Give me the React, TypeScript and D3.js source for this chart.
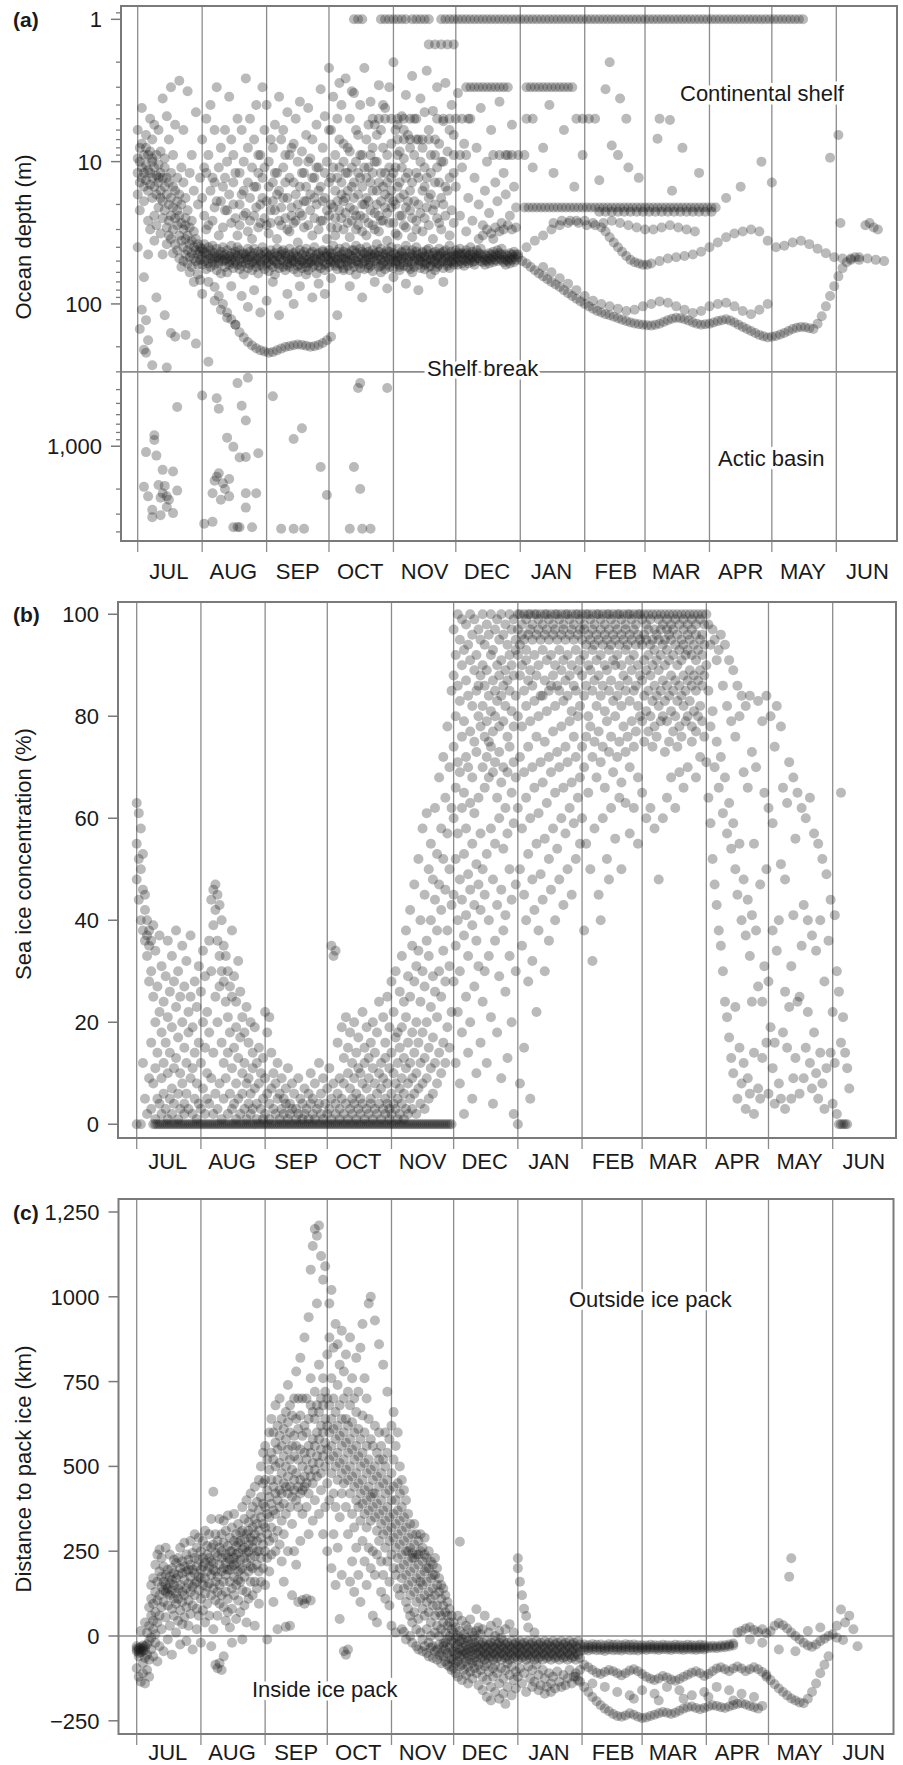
import * as d3 from 'd3';

type Pt = [number, number];
type Column = [number, number[]];

const FONT = 'Liberation Sans, Arial, Helvetica, sans-serif';
const MONTH_LABELS = ['JUL', 'AUG', 'SEP', 'OCT', 'NOV', 'DEC', 'JAN', 'FEB', 'MAR', 'APR', 'MAY', 'JUN'];
const SEASON_START = new Date(2007, 6, 1);
const JUNE_FIRST = new Date(2008, 5, 1);
const SEASON_END = new Date(2008, 6, 1);

// day = days since 1 July; each column lists the values seen on that day

// ---------- (a) ocean depth, m ----------
const depthTicks: [number, string][] = [[1, '1'], [10, '10'], [100, '100'], [1000, '1,000']];
const shelfBreakDepth = 300;

const depthJuly: Column[] = [
  [0, [12, 9.5, 17, 6, 40]], [1, [10, 14, 8, 22, 150]], [2, [11, 7.5, 13, 4.2, 110]], [3, [9, 15, 12, 19, 65]],
  [4, [10.5, 8, 13.5, 6.5, 220]], [5, [11.5, 9, 16, 26, 45]], [6, [8.5, 12, 14.5, 5, 30]], [7, [10, 13, 18, 7, 9.5]],
  [8, [11, 15, 24, 5.5, 36]], [9, [9, 12.5, 17, 28, 90]], [10, [14, 10.5, 21, 6, 13]], [11, [12, 16, 8.5, 32, 18]],
  [12, [13, 19, 3.6, 25, 45]], [13, [15, 11, 22, 9.5, 120]], [14, [17, 4.8, 13, 29, 38]], [15, [14, 20, 26, 7, 33]],
  [16, [18, 12, 3, 35, 24]], [17, [21, 15, 30, 9, 44]], [18, [16, 25, 5.5, 38, 170]], [19, [19, 28, 13, 42, 22]],
  [20, [24, 2.7, 33, 17, 48]], [21, [27, 20, 36, 11, 55]], [22, [30, 14, 40, 6, 50]], [23, [25, 35, 45, 18, 28]],
  [24, [33, 42, 3.2, 22, 52]], [25, [38, 29, 47, 12, 60]], [26, [36, 44, 9, 26, 55]], [27, [40, 48, 31, 16, 70]],
  [28, [42, 50, 35, 4.5, 190]], [29, [45, 38, 53, 20, 62]], [30, [43, 49, 40, 13, 68]],
];

// main 40-60 m band (with the odd deeper fix) from August to December
const depthBand: Column[] = [
  [31, [46, 41, 53, 85]], [32, [43, 50, 38]], [33, [49, 44, 57]], [34, [45, 52, 40, 70]], [35, [48, 42, 55]], [36, [51, 46, 39]],
  [37, [44, 53, 48, 95]], [38, [47, 41, 58]], [39, [52, 45, 50]], [40, [43, 48, 61, 110]], [41, [50, 46, 40]], [42, [45, 55, 49]],
  [43, [48, 42, 60, 125]], [44, [53, 46, 51]], [45, [44, 49, 39, 75]], [46, [47, 56, 52]], [47, [50, 43, 45, 140]], [48, [46, 53, 40]],
  [49, [42, 49, 57]], [50, [51, 45, 54, 88]], [51, [48, 44, 62]], [52, [45, 52, 47]], [53, [49, 41, 56, 105]], [54, [53, 47, 43]],
  [55, [46, 51, 58]], [56, [44, 50, 41, 80]], [57, [52, 48, 55]], [58, [47, 43, 61]], [59, [50, 45, 53, 115]], [60, [46, 54, 40]],
  [61, [43, 49, 57]], [62, [48, 52, 44, 95]], [63, [51, 46, 59]], [64, [45, 42, 53]], [65, [49, 55, 47, 70]], [66, [44, 50, 62]],
  [67, [52, 46, 41]], [68, [47, 53, 56, 120]], [69, [43, 49, 45]], [70, [50, 55, 42]], [71, [46, 44, 58]], [72, [53, 48, 51, 85]],
  [73, [45, 41, 55]], [74, [49, 52, 47]], [75, [44, 57, 50, 100]], [76, [51, 46, 43]], [77, [47, 54, 60]], [78, [42, 49, 53, 75]],
  [79, [50, 45, 56]], [80, [48, 43, 52]], [81, [46, 55, 41, 62]], [82, [52, 49, 58]], [83, [44, 47, 51]], [84, [50, 43, 55, 90]],
  [85, [47, 53, 40]], [86, [45, 49, 61]], [87, [51, 44, 54, 72]], [88, [48, 56, 46]], [89, [43, 50, 42]], [90, [53, 47, 58, 85]],
  [91, [46, 52, 44]], [92, [49, 42, 55]], [93, [44, 51, 47, 66]], [94, [50, 45, 39]], [95, [47, 54, 52]], [96, [43, 49, 57, 120]],
  [97, [52, 46, 41]], [98, [45, 53, 48]], [99, [48, 43, 56, 58]], [100, [51, 47, 40]], [101, [44, 50, 54]], [102, [49, 45, 58, 75]],
  [103, [46, 52, 42]], [104, [42, 48, 55]], [105, [50, 44, 39, 62]], [106, [47, 53, 51]], [107, [45, 41, 56]], [108, [52, 48, 43, 90]],
  [109, [44, 50, 57]], [110, [49, 46, 40]], [111, [43, 53, 47, 56]], [112, [51, 45, 54]], [113, [47, 42, 59]], [114, [45, 50, 44, 70]],
  [115, [52, 48, 38]], [116, [46, 43, 55]], [117, [49, 54, 41, 60]], [118, [44, 47, 52]], [119, [50, 45, 57]], [120, [47, 53, 42, 78]],
  [121, [43, 49, 55]], [122, [51, 46, 40]], [123, [48, 44, 56, 65]], [124, [45, 52, 50]], [125, [50, 41, 47]], [126, [46, 53, 58, 55]],
  [127, [43, 48, 44]], [128, [51, 46, 54]], [129, [47, 42, 39, 72]], [130, [49, 55, 51]], [131, [44, 47, 57]], [132, [52, 45, 42, 60]],
  [133, [46, 50, 55]], [134, [48, 43, 40]], [135, [45, 53, 49, 80]], [136, [50, 47, 56]], [137, [43, 51, 44]], [138, [47, 46, 53, 57]],
  [139, [52, 42, 49]], [140, [45, 55, 41]], [141, [49, 48, 54, 62]], [142, [44, 51, 46]], [143, [50, 43, 58]], [144, [47, 45, 52, 55]],
  [145, [46, 53, 41]], [146, [51, 44, 48]], [147, [43, 50, 56, 70]], [148, [48, 46, 42]], [149, [45, 52, 54]], [150, [50, 47, 39, 56]],
  [151, [46, 43, 51]], [152, [49, 53, 45]],
  [153, [46, 51, 42]], [154, [48, 44, 53]], [155, [45, 50, 41]], [156, [47, 52, 44]], [157, [49, 45, 54]], [158, [44, 50, 42]],
  [159, [48, 46, 52]], [160, [45, 49, 40]], [161, [47, 51, 43]], [162, [50, 45, 53]], [163, [46, 48, 42]], [164, [48, 44, 35]],
  [165, [45, 50, 41]], [166, [47, 51, 33]], [167, [49, 45, 53]], [168, [46, 50, 30]], [169, [48, 44, 52]], [170, [45, 49, 32]],
  [171, [47, 51, 43]], [172, [49, 45, 29]], [173, [46, 50, 42]], [174, [48, 44, 31]], [175, [45, 49, 41]], [176, [47, 51, 30]],
  [177, [49, 45, 53]], [178, [46, 50, 28]], [179, [48, 44, 52]], [180, [45, 49, 30]], [181, [47, 51, 43]], [182, [49, 45, 29]],
];

// shallow fixes above the band
const depthUpper: Column[] = [
  [31, [18, 7]], [32, [24, 11]], [33, [12, 5, 30]], [34, [28, 9]], [35, [16, 4]], [36, [26, 13]], [37, [14, 21, 6]], [38, [3, 19]],
  [39, [11, 33]], [40, [19, 8]], [41, [29, 15]], [42, [13, 6, 22]], [43, [22, 10]], [44, [17, 3.5]], [45, [7, 27]], [46, [14, 20, 9]],
  [47, [25, 12]], [48, [5, 33]], [49, [12, 20, 28]], [50, [6, 17]], [51, [16, 10, 24]], [52, [23, 2.6]], [53, [8, 31, 14]],
  [54, [5, 18, 26]], [55, [35, 11]], [56, [7, 24, 15]], [57, [15, 4, 21]], [58, [29, 9, 12]], [59, [9, 20, 27]], [60, [13, 3, 18]],
  [61, [6, 25, 11]], [62, [19, 4, 28]], [63, [10, 32, 15]], [64, [27, 7, 22]], [65, [8, 14, 19]], [66, [22, 5.5, 12]],
  [67, [12, 35, 17]], [68, [16, 3.5, 26]], [69, [28, 7, 21]], [70, [11, 18, 6]], [71, [25, 14, 9]], [72, [18, 4.5, 30]],
  [73, [9, 31, 13]], [74, [21, 8, 24]], [75, [14, 7.5, 27]], [76, [26, 5, 17]], [77, [10, 37, 20]], [78, [15, 3.8, 23]],
  [79, [24, 8.5, 12]], [80, [12, 19, 29]], [81, [19, 6.5, 15]], [82, [28, 4.2, 10]], [83, [9.5, 17, 22]], [84, [33, 13, 7]],
  [85, [13, 25, 18]], [86, [20, 5.5, 11]], [87, [30, 11, 16]], [88, [15, 3.1, 26]], [89, [26, 8, 19]], [90, [18, 4.8, 12]],
  [91, [10, 35, 22]], [92, [24, 6, 14, 2.2]], [93, [13, 20, 6, 29]], [94, [21, 3.5, 11]], [95, [16, 9, 25, 33]],
  [96, [29, 5, 13, 19]], [97, [11, 22, 7, 2.8]], [98, [25, 14, 4, 17]], [99, [7.5, 19, 30, 10]], [100, [18, 2.6, 23, 12]],
  [101, [27, 12, 8, 16]], [102, [34, 8.5, 21, 5]], [103, [15, 26, 11, 3.2]], [104, [22, 3.3, 14, 18]], [105, [30, 10, 6, 24]],
  [106, [17, 6.5, 28, 12]], [107, [24, 13, 9, 4]], [108, [9, 20, 15, 31]], [109, [20, 2.2, 11, 25]], [110, [33, 7, 18, 13]],
  [111, [19, 11, 27, 5.5]], [112, [14, 3.8, 22, 9]], [113, [28, 8, 16, 12]], [114, [23, 5.5, 10, 30]], [115, [16, 10, 20, 6.5]],
  [116, [31, 2.9, 14, 24]], [117, [12, 6, 19, 26]], [118, [26, 15, 8, 4]], [119, [21, 4.2, 12, 17]], [120, [36, 9, 23, 14]],
  [121, [18, 3, 11, 27]], [122, [13, 7.5, 21, 16]], [123, [27, 2, 12, 19]], [124, [20, 11, 6, 32]], [125, [33, 5.5, 15, 9]],
  [126, [14, 8.5, 24, 18]], [127, [24, 4.8, 11]], [128, [17, 9.5, 28, 6]], [129, [29, 3.4, 13, 21]], [130, [12, 6.5, 19]],
  [131, [22, 16, 8]], [132, [34, 2.5, 14, 25]], [133, [19, 9, 5]], [134, [26, 5, 12, 30]], [135, [13, 7, 20]], [136, [23, 3.6, 10]],
  [137, [31, 8, 16]], [138, [11, 15, 25, 4.5]], [139, [21, 2.3, 13]], [140, [28, 6, 18]], [141, [17, 12, 9]], [142, [35, 4.4, 22]],
  [143, [20, 9, 14]], [144, [25, 3, 11]], [145, [14, 7.5, 27]], [146, [30, 18, 10]], [147, [10, 5.2, 20]], [148, [24, 2.8, 15]],
  [149, [16, 8.5]], [150, [33, 13, 6]], [151, [22, 4]], [152, [27, 6.5, 12]],
  [153, [15]], [154, [3.3]], [155, [24]], [156, [11]], [157, [7.5]], [158, [31]], [159, [18]], [160, [5]], [161, [26]], [162, [13]],
  [163, [8]], [164, [20]], [165, [4.2]], [166, [28]], [167, [16]], [168, [10]], [169, [23]], [170, [6]], [171, [35]], [172, [14]],
  [173, [19]], [174, [3.8]], [175, [27]], [176, [12]], [177, [17]], [178, [9]], [179, [24]], [180, [5.5]], [181, [15]], [182, [21]],
];

const depthRows = [
  { depth: 1, days: [104, 106, 108, 117, 119, 121, 123, 125, 127, 129, 132, 134, 136, 138, 140, 146, 148, 150, 152, 154, 156, 158, 160, 162, 164, 166, 168, 170, 172, 174, 176, 178, 180, 182, 184, 186, 188, 190, 192, 194, 196, 198, 200, 202, 204, 206, 208, 210, 212, 214, 216, 218, 220, 222, 224, 226, 228, 230, 232, 234, 236, 238, 240, 242, 244, 246, 248, 250, 252, 254, 256, 258, 260, 262, 264, 266, 268, 270, 272, 274, 276, 278, 280, 282, 284, 286, 288, 290, 292, 294, 296, 298, 300, 302, 304, 306, 308, 310, 312, 314, 316, 318, 320] },
  { depth: 1.5, days: [140, 143, 146, 149, 152] },
  { depth: 3, days: [158, 160, 162, 164, 166, 168, 170, 172, 174, 176, 178, 187, 189, 191, 193, 195, 197, 199, 201, 203, 205, 207, 209] },
  { depth: 5, days: [113, 116, 119, 122, 125, 128, 131, 144, 147, 150, 153, 156, 159, 187, 190, 211, 214, 217, 220] },
  { depth: 7, days: [125, 128, 131, 134, 137, 140, 143] },
  { depth: 9, days: [152, 155, 158, 171, 174, 177, 180, 183, 186] },
  { depth: 21, days: [186, 188, 190, 192, 194, 196, 198, 200, 202, 204, 206, 208, 210, 212, 214, 216, 218, 220, 222, 224, 226, 228, 230, 232, 234, 236, 238, 240, 242, 244, 246, 248, 250, 252, 254, 256, 258, 260, 262, 264, 266, 268, 270, 272, 274, 276, 278] },
  { depth: 22.5, days: [222, 225, 228, 231, 234, 237, 240, 243, 246, 249, 252, 255, 258, 261, 264, 267, 270, 273, 276] },
];

const depthSummerTrack: Pt[] = [
  [37, 76], [39, 88], [41, 100], [43, 115], [45, 128], [47, 140], [49, 158], [51, 172], [53, 185], [55, 196], [57, 205],
  [59, 212], [61, 216], [63, 220], [65, 218], [67, 212], [69, 206], [71, 201], [73, 198], [75, 195], [77, 193], [79, 194],
  [81, 197], [83, 200], [85, 198], [87, 194], [89, 188], [91, 180], [93, 170],
];

const depthWinterTracks: Pt[] = [
  [183, 47], [185, 50], [187, 52], [189, 55], [191, 58], [193, 61], [195, 64], [197, 67], [199, 70], [201, 73], [203, 76],
  [205, 80], [207, 84], [209, 88], [211, 92], [213, 96], [215, 100], [217, 104], [219, 108], [221, 112], [223, 115],
  [225, 118], [227, 120], [229, 123], [231, 126], [233, 129], [235, 132], [237, 135], [239, 137], [241, 139], [243, 140],
  [245, 141], [247, 142], [249, 140], [251, 138], [253, 134], [255, 130], [257, 127], [259, 125], [261, 126], [263, 128],
  [265, 131], [267, 135], [269, 138], [271, 140], [273, 139], [275, 138], [277, 135], [279, 132], [281, 130], [283, 128],
  [285, 131], [287, 135], [289, 140], [291, 145], [293, 150], [295, 155], [297, 160], [299, 165], [301, 169], [303, 172],
  [305, 170], [307, 168], [309, 164], [311, 160], [313, 155], [315, 150], [317, 147], [319, 145], [321, 146], [323, 148],
  [195, 55], [199, 60], [203, 66], [207, 72], [211, 80], [215, 88], [219, 95], [223, 100], [227, 104], [231, 108], [235, 112],
  [239, 110], [243, 104], [247, 100], [251, 96], [255, 98], [259, 104], [263, 110], [267, 116], [271, 112], [275, 104],
  [279, 100], [283, 98], [287, 104], [291, 112], [295, 118], [299, 110], [303, 100],
  [183, 45], [187, 40], [191, 36], [195, 33], [199, 30], [203, 28], [207, 27], [211, 26], [215, 26], [219, 27], [223, 29],
  [225, 31], [227, 34], [229, 37], [231, 40], [233, 43], [235, 46], [237, 49], [239, 51], [241, 52], [243, 53], [245, 53],
  [247, 52], [251, 50], [255, 48], [259, 47], [263, 46], [267, 45], [271, 43], [275, 40], [279, 37], [283, 34], [287, 32],
  [291, 31], [295, 30], [299, 31], [303, 36], [307, 40], [311, 39], [315, 37], [319, 36], [323, 38], [327, 41], [331, 44],
  [335, 47], [339, 48], [343, 49], [347, 49], [351, 48], [355, 49], [359, 50],
  [200, 27], [204, 26], [208, 26], [212, 27], [216, 28], [220, 28], [224, 27], [228, 26], [232, 27], [236, 28], [240, 29],
  [244, 30], [248, 30], [252, 29], [256, 28], [260, 29], [264, 30], [268, 31],
  [325, 150], [327, 138], [329, 122], [331, 104], [333, 88], [335, 75], [337, 64], [339, 56], [341, 51], [343, 48], [345, 47], [347, 47],
];

const depthWinterScatter: Pt[] = [
  [227, 2], [225, 3.1], [232, 3.6], [235, 5], [251, 5], [250, 6.9], [256, 5.1], [228, 7.7], [231, 9], [241, 13], [257, 16],
  [305, 14], [338, 27], [222, 13.5], [195, 8], [200, 12], [205, 6], [210, 15], [190, 11], [198, 4], [214, 9], [236, 11],
  [262, 8], [270, 12], [283, 18], [333, 9.4], [337, 6.5], [350, 28], [352, 27], [354, 29], [356, 30], [290, 15], [300, 10],
];

const depthDeep: Pt[] = [
  [4, 1100], [8, 838], [8, 903], [9, 1164], [12, 1466], [17, 1505], [10, 1875], [12, 2140], [14, 2250], [15, 2380], [5, 2250],
  [7, 3150], [11, 3050], [17, 2950], [19, 2050], [19, 530], [3, 1930], [7, 2800], [14, 2670], [11, 2300], [13, 1900],
  [4, 130], [5, 180], [7, 270], [14, 280], [16, 160], [23, 165], [3, 210],
  [31, 440], [34, 255], [38, 460], [39, 545], [48, 360], [53, 330], [50, 520], [52, 660], [43, 870], [46, 1010], [49, 1200],
  [52, 1190], [58, 1120], [38, 1640], [41, 1820], [36, 2140], [40, 2380], [44, 2250], [52, 2140], [57, 2140], [52, 2700],
  [39, 1550], [32, 3500], [36, 3400], [46, 3710], [49, 3710], [55, 3710], [48, 3700], [42, 2000], [37, 1750], [44, 1700],
  [65, 445], [75, 890], [79, 748], [88, 1400], [91, 2200], [69, 3800], [75, 3800], [80, 3800],
  [107, 360], [104, 1400], [107, 2000], [102, 3800], [108, 3800], [112, 3800], [120, 390], [106, 390],
];

// ---------- (b) sea ice concentration, % ----------
const iceTicks = [0, 20, 40, 60, 80, 100];

const iceFreeDays = [
  8, 9, 10, 11, 12, 13, 14, 15, 16, 17, 18, 19, 20, 21, 22, 23, 24, 25, 26, 27, 28, 29, 30, 31, 32, 33, 34, 35, 36, 37, 38, 39,
  40, 41, 42, 43, 44, 45, 46, 47, 48, 49, 50, 51, 52, 53, 54, 55, 56, 57, 58, 59, 60, 61, 62, 63, 64, 65, 66, 67, 68, 69, 70,
  71, 72, 73, 74, 75, 76, 77, 78, 79, 80, 81, 82, 83, 84, 85, 86, 87, 88, 89, 90, 91, 92, 93, 94, 95, 96, 97, 98, 99, 100,
  101, 102, 103, 104, 105, 106, 107, 108, 109, 110, 111, 112, 113, 114, 115, 116, 117, 118, 119, 120, 121, 122, 123, 124,
  125, 126, 127, 128, 129, 130, 131, 132, 133, 134, 135, 136, 137, 138, 139, 140, 141, 142, 143, 144, 145, 146, 147, 148,
  149, 150, 151, 152,
];

const iceSummer: Column[] = [
  [0, [55, 63, 48, 0]], [1, [61, 52, 44]], [2, [58, 50, 40, 0]], [3, [53, 46, 38, 12]], [4, [45, 42, 36, 5]], [5, [40, 37, 33, 2]],
  [6, [38, 35, 28, 9]], [7, [36, 30, 16, 3]], [8, [39, 25, 8]], [9, [34, 20, 11, 1]], [10, [27, 14, 5]], [11, [37, 22, 4]],
  [12, [31, 18, 9, 2]], [13, [24, 12, 6]], [14, [29, 16, 3]], [15, [36, 21, 10, 1]], [16, [26, 14, 5]], [17, [33, 19, 7, 2]],
  [18, [28, 11, 4]], [19, [38, 23, 13]], [20, [30, 17, 6, 1]], [21, [25, 10, 3]], [22, [35, 20, 8]], [23, [27, 15, 4, 2]],
  [24, [32, 12, 6]], [25, [22, 18, 3]], [26, [37, 25, 9]], [27, [19, 11, 2]], [28, [28, 14, 5]], [29, [23, 8, 1]], [30, [31, 16, 4]],
  [31, [26, 12, 3]], [32, [34, 20, 7]], [33, [29, 15, 2]], [34, [22, 10, 5]], [35, [36, 18, 4]], [36, [44, 30, 9]],
  [37, [46, 39, 14, 2]], [38, [47, 42, 25, 6]], [39, [45, 36, 20, 3]], [40, [43, 33, 27, 8]], [41, [40, 30, 16, 1]],
  [42, [35, 28, 12, 5]], [43, [33, 24, 9]], [44, [30, 21, 14, 2]], [45, [27, 18, 6]], [46, [38, 25, 11, 3]], [47, [29, 15, 4]],
  [48, [24, 19, 8, 1]], [49, [32, 13, 5]], [50, [26, 17, 2]], [51, [21, 10, 6]], [52, [18, 12, 3]], [53, [23, 8, 1]],
  [54, [16, 9, 4]], [55, [20, 6, 2]], [56, [14, 11, 3]], [57, [19, 7]], [58, [12, 4, 1]], [59, [15, 8]], [60, [10, 3]], [61, [13, 5, 1]],
  [62, [22, 9, 2]], [63, [18, 6]], [64, [21, 4, 1]], [65, [14, 7]], [66, [10, 3]], [67, [8, 2]], [68, [12, 5]], [69, [6, 1]],
  [70, [9, 3]], [71, [5, 2]], [72, [7, 4]], [73, [11, 1]], [74, [4, 2]], [75, [8, 3]], [76, [6]], [77, [3, 1]], [78, [9, 2]],
  [79, [5]], [80, [4, 1]], [81, [7, 2]], [82, [3]], [83, [6, 1]], [84, [10, 4]], [85, [5, 2]], [86, [8, 1]], [87, [3]],
  [88, [12, 4]], [89, [6, 2]], [90, [9, 1]], [91, [4]],
];

const iceAutumn: Column[] = [
  [92, [7, 2]], [93, [11, 3]], [94, [35, 5, 1]], [95, [33, 8]], [96, [34, 4, 2]], [97, [16, 6]], [98, [9, 3, 1]], [99, [19, 5]],
  [100, [13, 8, 2]], [101, [21, 4]], [102, [15, 10, 1]], [103, [18, 7, 3]], [104, [12, 5, 2]], [105, [20, 9, 4]],
  [106, [14, 6, 1]], [107, [17, 11, 3]], [108, [10, 5, 2]], [109, [22, 8, 4]], [110, [15, 12, 1]], [111, [19, 7, 3]],
  [112, [13, 9, 2]], [113, [16, 5, 4]], [114, [20, 11, 1]], [115, [14, 8, 3]], [116, [18, 6, 2]], [117, [24, 10, 4]],
  [118, [12, 7, 1]], [119, [21, 9, 3]], [120, [16, 13, 5, 2]], [121, [25, 8, 4]], [122, [19, 11, 3, 1]],
  [123, [28, 14, 6, 2]], [124, [22, 10, 4]], [125, [30, 17, 8, 3]], [126, [18, 12, 5, 1]], [127, [26, 15, 7, 2]],
  [128, [33, 19, 9, 4]], [129, [24, 13, 6, 1]], [130, [38, 21, 11, 3]], [131, [29, 16, 8, 2]], [132, [42, 25, 12, 5]],
  [133, [35, 18, 9, 3]], [134, [47, 28, 14, 6]], [135, [31, 20, 10, 2]], [136, [52, 34, 16, 7]], [137, [40, 24, 12, 4]],
  [138, [58, 30, 18, 8]], [139, [45, 27, 13, 3]], [140, [61, 36, 20, 9]], [141, [50, 33, 15, 5]], [142, [55, 40, 23, 11]],
  [143, [48, 29, 17, 6]], [144, [62, 44, 26, 12]], [145, [53, 38, 21, 8]], [146, [68, 47, 30, 14]], [147, [58, 42, 25, 10]],
  [148, [72, 52, 34, 16]], [149, [64, 46, 28, 12]], [150, [78, 57, 38, 19]], [151, [70, 50, 31, 15]], [152, [85, 62, 43, 22]],
];

const iceWinter: Column[] = [
  [153, [97, 88, 74, 60, 45, 28]], [154, [92, 80, 66, 52, 35, 12]], [155, [100, 86, 71, 57, 40, 22]], [156, [95, 83, 69, 48, 30, 8]],
  [157, [99, 90, 76, 62, 44, 18]], [158, [93, 79, 65, 53, 37, 2]], [159, [98, 87, 72, 58, 41, 25]], [160, [94, 84, 70, 49, 33, 14]],
  [161, [100, 91, 77, 63, 46, 20]], [162, [96, 82, 68, 55, 39, 5]], [163, [99, 89, 75, 61, 43, 27]], [164, [92, 85, 73, 51, 36, 10]],
  [165, [97, 86, 80, 64, 47, 31]], [166, [95, 88, 78, 57, 42, 16]], [167, [100, 90, 82, 70, 50, 24]], [168, [94, 86, 76, 66, 45, 30]],
  [169, [98, 89, 79, 72, 53, 12]], [170, [96, 84, 75, 68, 40, 33]], [171, [100, 92, 81, 74, 58, 21]], [172, [93, 87, 77, 69, 48, 4]],
  [173, [97, 85, 80, 71, 55, 36]], [174, [99, 90, 83, 64, 43, 18]], [175, [95, 88, 78, 73, 60, 29]], [176, [100, 91, 84, 67, 46, 9]],
  [177, [96, 86, 79, 70, 54, 38]], [178, [98, 89, 82, 62, 41, 26]], [179, [94, 87, 76, 69, 57, 13]], [180, [100, 92, 85, 74, 50, 33]],
  [181, [97, 90, 81, 65, 44, 20]], [182, [99, 88, 78, 71, 59, 2]], [183, [95, 93, 84, 68, 47, 30]],
  [184, [100, 97, 92, 80, 62, 0]], [185, [100, 94, 88, 72, 50, 8]], [186, [98, 96, 90, 78, 58, 35]], [187, [100, 95, 85, 69, 45, 15]],
  [188, [99, 93, 91, 82, 64, 40]], [189, [100, 96, 87, 74, 53, 28]], [190, [100, 97, 89, 79, 60, 5]], [191, [98, 95, 86, 70, 48, 32]],
  [192, [100, 92, 83, 66, 42]], [193, [100, 96, 88, 76, 55, 22]], [194, [99, 97, 90, 80, 61, 38]], [195, [100, 95, 84, 71, 49]],
  [196, [98, 93, 84, 67, 44]], [197, [100, 96, 87, 75, 56, 30]], [198, [100, 97, 91, 81, 63]], [199, [99, 95, 85, 72, 52, 36]],
  [200, [100, 92, 86, 69, 46]], [201, [98, 96, 88, 77, 58]], [202, [100, 97, 90, 82, 65, 40]], [203, [100, 95, 86, 73, 54]],
  [204, [99, 93, 85, 70, 48]], [205, [100, 96, 89, 78, 60]], [206, [98, 97, 91, 83, 66, 43]], [207, [100, 95, 87, 74, 57]],
  [208, [100, 92, 84, 71, 50]], [209, [99, 96, 88, 79, 62]], [210, [100, 97, 90, 81, 67, 45]], [211, [98, 95, 86, 76, 59]],
  [212, [100, 93, 85, 72, 52]], [213, [100, 96, 89, 80, 64]], [214, [99, 97, 91, 82, 68, 55]],
  [215, [100, 95, 88, 74, 60]], [216, [98, 97, 92, 84, 70, 38]], [217, [100, 94, 86, 76, 55]], [218, [100, 96, 90, 80, 65]],
  [219, [99, 95, 89, 78, 50]], [220, [100, 97, 93, 85, 72, 32]], [221, [98, 94, 87, 75, 58]], [222, [100, 96, 91, 82, 68]],
  [223, [100, 95, 88, 77, 45]], [224, [99, 97, 92, 84, 71, 40]], [225, [100, 94, 86, 74, 60]], [226, [98, 96, 90, 81, 66]],
  [227, [100, 95, 89, 79, 52]], [228, [100, 97, 93, 85, 73, 48]], [229, [99, 94, 87, 76, 62]], [230, [100, 96, 91, 83, 69]],
  [231, [98, 95, 90, 80, 56]], [232, [100, 97, 92, 84, 72]], [233, [100, 94, 86, 75, 64]], [234, [99, 96, 90, 82, 67, 50]],
  [235, [100, 95, 88, 78]], [236, [98, 97, 93, 85, 73, 63]], [237, [100, 94, 87, 76]], [238, [100, 96, 91, 83, 70, 57]],
  [239, [99, 95, 89, 79]], [240, [100, 97, 92, 85, 74, 62]], [241, [98, 94, 86, 77]], [242, [100, 96, 90, 82, 68, 55]],
  [243, [100, 95, 88, 80]],
  [244, [99, 94, 87, 79, 65]], [245, [100, 96, 91, 84, 75]], [246, [98, 95, 89, 81, 60]], [247, [100, 97, 92, 85, 77]],
  [248, [99, 94, 88, 80, 62]], [249, [100, 95, 90, 83, 74]], [250, [97, 93, 86, 78, 58]], [251, [100, 96, 91, 84, 76]],
  [252, [99, 95, 89, 82, 48]], [253, [100, 97, 92, 85, 79]], [254, [98, 94, 87, 80, 60]], [255, [100, 95, 90, 83, 73]],
  [256, [99, 97, 93, 86, 79, 64]], [257, [100, 96, 91, 84, 75]], [258, [98, 95, 88, 81, 68]], [259, [100, 97, 92, 85, 77]],
  [260, [99, 94, 87, 80, 62]], [261, [100, 96, 90, 83, 74]], [262, [98, 93, 86, 78, 69]], [263, [100, 95, 91, 84, 76]],
  [264, [99, 97, 94, 88, 82, 66]], [265, [100, 92, 85, 79]], [266, [98, 96, 93, 87, 80, 70]], [267, [100, 95, 89, 83]],
  [268, [99, 97, 92, 86, 78, 75]], [269, [100, 94, 88, 81]], [270, [98, 96, 91, 85, 77, 68]], [271, [100, 93, 87, 80]],
  [272, [99, 95, 89, 82, 72]], [273, [100, 96, 92, 86, 79]], [274, [98, 94, 88, 76]],
];

const iceSpring: Column[] = [
  [275, [100, 90, 71]], [276, [98, 85, 64]], [277, [94, 78, 59]], [278, [97, 81, 52]], [279, [95, 70, 47]], [280, [91, 75, 43]],
  [281, [93, 66, 38]], [282, [96, 72, 35]], [283, [86, 61, 30]], [284, [94, 68, 24]], [285, [82, 57, 21]], [286, [91, 63, 17]],
  [287, [79, 54, 13]], [288, [89, 59, 10]], [289, [76, 50, 23]], [290, [86, 45, 5]], [291, [80, 55, 15]], [292, [84, 40, 8]],
  [293, [69, 48, 12]], [294, [82, 37, 3]], [295, [66, 44, 9]], [296, [84, 33, 6]], [297, [73, 41, 24]], [298, [55, 14, 2]],
  [299, [70, 38]], [300, [83, 27, 7]], [301, [47, 5]], [302, [79, 24, 13]], [303, [65, 31]], [304, [84, 50, 16]],
  [305, [62, 28, 6]], [306, [80, 19]], [307, [59, 38, 11]], [308, [74, 16, 4]], [309, [82, 34]], [310, [40, 8]],
  [311, [78, 51, 5]], [312, [66, 18]], [313, [48, 26, 3]], [314, [63, 15]], [315, [71, 23]], [316, [31, 5]], [317, [68, 41, 9]],
  [318, [56, 13]], [319, [65, 24]], [320, [25, 6]], [321, [62, 35]], [322, [43, 9]], [323, [60, 15]], [324, [40, 22]],
  [325, [64, 12]], [326, [37, 7]], [327, [57, 18]], [328, [34, 10]], [329, [55, 5]], [330, [40, 14]], [331, [52, 8]],
  [332, [28, 3]], [333, [49, 11]], [334, [36]], [335, [44, 14]], [336, [22, 4]], [337, [41, 12]], [338, [30, 2]], [339, [26, 0]],
  [340, [65, 16, 0]], [341, [21, 0]], [342, [14, 0]], [343, [11, 0]], [344, [7]],
];

// ---------- (c) distance to pack ice, km ----------
const distTicks: [number, string][] = [[-250, '\u2212250'], [0, '0'], [250, '250'], [500, '500'], [750, '750'], [1000, '1000'], [1250, '1,250']];

const distSummer: Column[] = [
  [0, [-38, -45, -30, -95]], [1, [-42, -35, -50, -120, -60]], [2, [-40, -33, -48, -135, 15]], [3, [-36, -44, -28, -80, -110]],
  [4, [-41, -30, -65, -140, 40]], [5, [-25, -55, 10, -100]], [6, [-15, 30, -70, 85, -120]], [7, [60, -40, 110, -5, 150]],
  [8, [20, 95, -60, 170, 45]], [9, [130, 70, -20, 210, 5]], [10, [160, 40, 240, -75, 105]], [11, [120, 190, 255, 60, -30]],
  [12, [145, 85, 175, 20, 230]], [13, [100, 160, 135, -45, 205]], [14, [130, 150, 180, 55, 260]], [15, [140, 125, 90, 195, -10]],
  [16, [155, 120, 175, 30, 240]], [17, [135, 165, 200, 80, -55]], [18, [150, 110, 185, 60, 225]], [19, [125, 170, 95, 215, 10]],
  [20, [180, 140, 230, 45, 110]], [21, [200, 150, 75, 260, -25]], [22, [130, 185, 100, 220, 35]], [23, [165, 205, 120, 55, 275]],
  [24, [190, 140, 240, -15, 85]], [25, [155, 225, 105, 195, 30]], [26, [210, 175, 130, 280, 65]], [27, [145, 195, 245, 90, -40]],
  [28, [185, 120, 230, 155, 300]], [29, [205, 160, 80, 260, 20]], [30, [175, 225, 135, 290, 60]], [31, [195, 250, 110, 170, -20]],
  [32, [230, 150, 280, 75, 205]], [33, [170, 215, 125, 310, 40]], [34, [240, 190, 95, 265, 145]], [35, [205, 155, 300, 60, 230]],
  [36, [260, 180, 120, 220, 345, -30]], [37, [215, 270, 140, 195, 425, 20]], [38, [190, 245, 105, 300, -85, 160]],
  [39, [235, 175, 280, 130, -95, 60]], [40, [210, 260, 150, 345, -80, 95]], [41, [250, 190, 120, 300, -100, 230]],
  [42, [200, 275, 160, 85, 340, -60]], [43, [240, 215, 130, 310, 45, 180]], [44, [265, 195, 110, 230, 355, 70]],
  [45, [225, 290, 160, 195, 25, 250]], [46, [250, 205, 140, 320, 80, -20]], [47, [280, 230, 175, 120, 360, 210]],
  [48, [215, 265, 300, 150, 50, 240]], [49, [245, 190, 330, 105, 275, 165]], [50, [280, 225, 160, 305, 70, 195]],
  [51, [255, 310, 200, 135, 380, -10]], [52, [230, 285, 175, 345, 90, 260]], [53, [300, 245, 130, 215, 400, 40]],
  [54, [270, 335, 190, 250, 110, 310]], [55, [290, 230, 360, 160, 420, 205]], [56, [320, 260, 200, 380, 120, 280]],
  [57, [300, 345, 235, 160, 440, 30]], [58, [330, 280, 395, 210, 140, 250]], [59, [310, 370, 250, 460, 190, 95]],
  [60, [350, 290, 410, 230, 500, 160]], [61, [330, 390, 270, 450, 200, 540]],
];

const distAutumn: Column[] = [
  [62, [380, 320, 460, 250, 560, 150]], [63, [360, 430, 300, 520, 230, -10]], [64, [410, 350, 490, 280, 600, 190]],
  [65, [390, 460, 540, 320, 240, 640]], [66, [440, 370, 520, 600, 290, 100]], [67, [420, 500, 360, 570, 250, 680]],
  [68, [460, 400, 550, 310, 620, 20]], [69, [430, 510, 590, 380, 270, 700]], [70, [480, 420, 560, 340, 640, 220]],
  [71, [450, 530, 610, 390, 300, 160]], [72, [500, 440, 580, 360, 660, 27]], [73, [470, 550, 420, 630, 250, 740]],
  [74, [440, 520, 600, 380, 680, 30]], [75, [410, 490, 560, 650, 330, 120]], [76, [430, 530, 590, 460, 700, 250]],
  [77, [400, 480, 560, 640, 780, 210]], [78, [440, 520, 380, 610, 700, 100]], [79, [460, 550, 420, 650, 820, 280]],
  [80, [430, 500, 590, 700, 360, 106]], [81, [470, 540, 620, 440, 880, 95]], [82, [450, 520, 600, 700, 380, 110]],
  [83, [490, 560, 640, 420, 940, 300]], [84, [470, 540, 680, 760, 1080, 105]], [85, [510, 580, 450, 660, 1150, 340]],
  [86, [490, 560, 640, 720, 1200, 400]], [87, [530, 600, 470, 680, 1180, 980]], [88, [510, 580, 660, 800, 1210, 360]],
  [89, [550, 620, 480, 700, 1120, 430]], [90, [530, 600, 680, 760, 1050, 300]], [91, [570, 640, 500, 720, 1090, 380]],
  [92, [550, 620, 700, 830, 450, 250]], [93, [520, 600, 680, 880, 400, 980]], [94, [560, 640, 480, 760, 1020, 200]],
  [95, [530, 610, 700, 850, 420, 300]], [96, [500, 580, 660, 920, 380, 150]], [97, [540, 620, 460, 740, 860, 260]],
  [98, [510, 590, 680, 800, 350, 50]], [99, [480, 560, 640, 420, 900, 180]], [100, [520, 600, 700, 450, 780, -45]],
  [101, [490, 570, 640, 380, 830, -55]], [102, [460, 540, 620, 720, 300, -40]], [103, [500, 580, 420, 680, 880, 160]],
  [104, [470, 550, 630, 360, 760, 220]], [105, [440, 520, 600, 700, 320, 130]], [106, [480, 400, 560, 660, 260, 820]],
  [107, [450, 530, 380, 610, 720, 180]], [108, [420, 500, 580, 340, 850, 100]], [109, [460, 390, 540, 650, 280, 920]],
  [110, [430, 510, 360, 600, 220, 760]], [111, [400, 480, 560, 320, 700, 150]], [112, [440, 370, 520, 640, 260, 980]],
  [113, [410, 490, 340, 580, 200, 1000]], [114, [380, 460, 420, 560, 250, 60]], [115, [420, 350, 500, 620, 180, 930]],
  [116, [390, 470, 310, 540, 240, 40]], [117, [360, 440, 520, 280, 600, 860]], [118, [400, 330, 480, 220, 560, 130]],
  [119, [370, 450, 300, 520, 180, 800]], [120, [340, 420, 500, 260, 600, 110]], [121, [380, 310, 460, 220, 540, 720]],
  [122, [350, 430, 280, 580, 160, 90]], [123, [320, 400, 240, 480, 620, 30]], [124, [360, 290, 440, 200, 520, 660]],
  [125, [330, 260, 400, 180, 560, 10]], [126, [300, 370, 230, 450, 140, 600]], [127, [270, 340, 200, 420, 120, 500]],
  [128, [310, 240, 380, 170, 460, 20]], [129, [280, 210, 350, 140, 430, 12]], [130, [250, 320, 180, 400, 100, -10]],
  [131, [290, 220, 360, 150, 80, 250]], [132, [260, 190, 330, 120, 60, 0]], [133, [230, 300, 160, 244, 40, -20]],
  [134, [270, 200, 130, 330, 70, 230]], [135, [240, 170, 300, 100, 20, -30]], [136, [210, 280, 140, 240, 50, -40]],
  [137, [250, 180, 110, 300, 10, 160]], [138, [220, 150, 260, 80, -10, -45]], [139, [190, 240, 120, 60, 290, -30]],
  [140, [230, 160, 100, 200, 20, -50]], [141, [200, 130, 250, 70, -20, -60]], [142, [170, 220, 110, 40, 0, -35]],
  [143, [210, 140, 90, 180, -30, -65]], [144, [180, 120, 60, 230, 10, -45]], [145, [150, 90, 200, 30, -40, -70]],
  [146, [130, 170, 70, 0, -25, -55]], [147, [110, 60, 150, 20, -50, -80]], [148, [90, 140, 40, -22, -60, -30]],
  [149, [70, 120, 10, -40, -75, -20]], [150, [60, 30, 100, -10, -50, -85]], [151, [40, 80, 0, -35, -65, -90]],
  [152, [20, 60, -15, -45, -70, -100]],
];

const distWinter: Column[] = [
  [153, [10, -20, -45, -70, -95, 40]], [154, [-5, -30, -55, -80, 25, -110]], [155, [0, -25, -50, -75, -120, 60]],
  [156, [-15, -40, -60, 278, -90, 15]], [157, [-10, -35, -55, -85, -130, 45]], [158, [-20, -45, -65, -100, 5]],
  [159, [-5, -30, -50, -75, -115, 30]], [160, [-15, -40, -60, -90, 20, -140]], [161, [-25, -45, -70, 49, -105]],
  [162, [-10, -35, -55, -80, -125, 10]], [163, [-20, -40, -65, -95, 0]], [164, [-30, -50, 79, -75, -110, 15]],
  [165, [-15, -35, -55, -85, -145, 25]], [166, [-25, -45, -65, -100, 5]], [167, [-20, -40, -60, -120, -160, 20]],
  [168, [-30, -50, -70, -90, 60]], [169, [-15, -35, -55, -80, -130, -180]], [170, [-25, -45, -65, -105, 10]],
  [171, [-20, -40, -60, -150, 30, -190]], [172, [-30, -50, -70, -95, -120]], [173, [-15, -35, -55, -85, -165, 0]],
  [174, [-25, -45, -65, -110, 40]], [175, [-20, -40, -60, -140, -185, 15]], [176, [-30, -50, -70, -95, -5]],
  [177, [-15, -35, -55, -125, -170]], [178, [-25, -45, -65, -100, -200, 20]], [179, [-20, -40, -60, -150, -80]],
  [180, [-30, -50, -70, -115, 35]], [181, [-15, -35, -55, -90, -175]], [182, [-25, -45, -65, -130, 10]],
  [183, [-20, -40, -60, -105, -155]], [184, [-30, -50, -70, 229, 200, -120]], [185, [-15, -35, -55, 160, -95]],
  [186, [-25, -45, -65, 120, -140]], [187, [-20, -40, -60, 80, -110]], [188, [-30, -50, -70, 59, -165]],
  [189, [-15, -35, -55, -90, 25]], [190, [-25, -45, -65, -125]], [191, [-20, -40, -60, -100, -150]],
  [192, [-30, -50, -70, -135, 10]], [193, [-15, -35, -55, -85]], [194, [-25, -45, -65, -115, -160]], [195, [-20, -40, -60, -145]],
  [196, [-30, -50, -70, -100]], [197, [-15, -35, -55, -125, -170]], [198, [-25, -45, -65, -150]], [199, [-20, -40, -60, -110]],
  [200, [-30, -50, -70, -140, -165]], [201, [-15, -35, -55, -120]], [202, [-25, -45, -65, -155]], [203, [-20, -40, -60, -105]],
  [204, [-30, -50, -70, -135]], [205, [-15, -35, -55, -150]], [206, [-25, -45, -65, -115]], [207, [-20, -40, -60, -145]],
  [208, [-30, -50, -70, -125]], [209, [-15, -35, -55, -100]], [210, [-25, -45, -65, -140]], [211, [-20, -40, -60, -120]],
  [212, [-30, -50, -70, -110]], [213, [-15, -35, -55, -130]], [214, [-25, -45, -65, -100]],
];

const distPackBand: Column[] = [
  [216, [-25, -33, -41]], [218, [-27, -35, -43]], [220, [-24, -32, -40]], [222, [-26, -34, -42]], [224, [-25, -33, -41]],
  [226, [-28, -36, -44]], [228, [-24, -32, -40]], [230, [-26, -34, -42]], [232, [-25, -33, -41]], [234, [-27, -35, -43]],
  [236, [-24, -32, -40]], [238, [-26, -34, -42]], [240, [-25, -33, -41]], [242, [-27, -35, -43]], [244, [-27, -34, -40]],
  [246, [-28, -35, -41]], [248, [-26, -33, -39]], [250, [-27, -34, -40]], [252, [-28, -35, -41]], [254, [-26, -33, -39]],
  [256, [-27, -34, -40]], [258, [-28, -35, -41]], [260, [-26, -33, -39]], [262, [-27, -34, -40]], [264, [-28, -35, -41]],
  [266, [-26, -33, -39]], [268, [-27, -34, -40]], [270, [-28, -35, -41]], [272, [-26, -33, -39]], [274, [-27, -34, -40]],
  [276, [-30, -36]], [278, [-29, -35]], [280, [-30, -36]], [282, [-28, -34]], [284, [-27, -33]], [286, [-25, -31]], [288, [-22, -28]],
];

const distWinterTracks: Pt[] = [
  [216, -85], [218, -92], [220, -100], [222, -108], [224, -112], [226, -106], [228, -100], [230, -104], [232, -110], [234, -116],
  [236, -110], [238, -102], [240, -98], [242, -104], [244, -112], [246, -120], [248, -126], [250, -130], [252, -125], [254, -118],
  [256, -122], [258, -128], [260, -132], [262, -127], [264, -120], [266, -114], [268, -108], [270, -104], [272, -110], [274, -118],
  [276, -112], [278, -104], [280, -96], [282, -92], [284, -98], [286, -104], [288, -96], [290, -90], [292, -96], [294, -104],
  [296, -98], [298, -92], [300, -98], [302, -106], [304, -114],
  [212, -120], [214, -135], [216, -150], [218, -165], [220, -180], [222, -192], [224, -204], [226, -214], [228, -222], [230, -230],
  [232, -236], [234, -238], [236, -234], [238, -228], [240, -232], [242, -238], [244, -242], [246, -240], [248, -236], [250, -232],
  [252, -228], [254, -224], [256, -226], [258, -230], [260, -226], [262, -220], [264, -214], [266, -210], [268, -208], [270, -212],
  [272, -216], [274, -212], [276, -208], [278, -204], [280, -206], [282, -210], [284, -212], [286, -208], [288, -204], [290, -200],
  [292, -198], [294, -202], [296, -206], [298, -210], [300, -214], [302, -206],
  [220, -140], [226, -150], [232, -165], [238, -175], [244, -160], [250, -170], [256, -150], [262, -160], [268, -175], [274, -165],
  [280, -150], [286, -160], [292, -170], [298, -180], [240, -185], [252, -190], [264, -185], [276, -180], [288, -190],
  [304, -120], [306, -130], [308, -142], [310, -155], [312, -165], [314, -175], [316, -184], [318, -190], [320, -196], [322, -198],
  [324, -185], [326, -165], [328, -140], [330, -110], [332, -85], [334, -60],
];

const distSpring: Pt[] = [
  [290, 10], [292, 15], [294, 22], [296, 26], [298, 18], [300, 12], [302, 20], [304, 8], [306, 14], [308, 30], [310, 38], [312, 32],
  [314, 22], [316, 10], [318, 0], [320, -10], [322, -20], [324, -28], [326, -32], [328, -25], [330, -15], [332, -8], [334, 0],
  [336, 5], [338, -5], [340, 78], [341, -12], [342, 40], [344, 60], [346, 20], [348, -30], [296, -10], [302, -20], [310, -40],
  [318, -45], [324, 15], [330, 25], [338, 30], [316, 229], [315, 175],
];

const fromColumns = (cols: Column[]): Pt[] => cols.flatMap(([d, vs]) => vs.map((v) => [d, v] as Pt));

const depthPoints: Pt[] = [
  ...fromColumns(depthJuly), ...fromColumns(depthBand), ...fromColumns(depthUpper),
  ...depthRows.flatMap((r) => r.days.map((d) => [d, r.depth] as Pt)),
  ...depthSummerTrack, ...depthWinterTracks, ...depthWinterScatter, ...depthDeep,
];
const icePoints: Pt[] = [
  ...iceFreeDays.map((d) => [d, 0] as Pt),
  ...fromColumns(iceSummer), ...fromColumns(iceAutumn), ...fromColumns(iceWinter), ...fromColumns(iceSpring),
];
const distPoints: Pt[] = [
  ...fromColumns(distSummer), ...fromColumns(distAutumn), ...fromColumns(distWinter), ...fromColumns(distPackBand),
  ...distWinterTracks, ...distSpring,
];

type Frame = { left: number; right: number; top: number; bottom: number; xJul: number; xJun: number; monthY: number };
type Note = { text: string; x: number; y: number };

const TEXT = '#1a1a1a';
const GRID = '#8c8c8c';
const AXIS = '#7a7a7a';

function Panel(props: {
  f: Frame;
  y: (v: number) => number;
  points: Pt[];
  ticks: [number, string][];
  minor?: number[];
  refValue?: number;
  tag: string;
  title: string;
  titleY: number;
  notes: Note[];
}) {
  const { f, y, points, ticks, minor, refValue, tag, title, titleY, notes } = props;
  const x = d3.scaleTime().domain([SEASON_START, JUNE_FIRST]).range([f.xJul, f.xJun]);
  const months = d3.timeMonth.range(SEASON_START, SEASON_END);
  const dx = (d: number) => x(d3.timeDay.offset(SEASON_START, d));
  const topTick = ticks[ticks.length - 1];
  return (
    <g>
      {months.map((m, i) => (
        <line key={'g' + i} x1={x(m)} x2={x(m)} y1={f.top} y2={f.bottom + 11} stroke={GRID} strokeWidth={1.3} />
      ))}
      {refValue !== undefined && (
        <line x1={f.left} x2={f.right} y1={y(refValue)} y2={y(refValue)} stroke={GRID} strokeWidth={1.6} />
      )}
      <g fill="#1a1a1a" fillOpacity={0.3}>
        {points.map(([d, v], i) => (
          <circle key={i} cx={dx(d)} cy={y(v)} r={5} />
        ))}
      </g>
      {notes.map((n, i) => (
        <g key={'n' + i}>
          <text x={n.x} y={n.y} fontSize={22} fontFamily={FONT} fill="#fff" stroke="#fff" strokeWidth={7} strokeLinejoin="round">
            {n.text}
          </text>
          <text x={n.x} y={n.y} fontSize={22} fontFamily={FONT} fill={TEXT}>
            {n.text}
          </text>
        </g>
      ))}
      <rect x={f.left} y={f.top} width={f.right - f.left} height={f.bottom - f.top} fill="none" stroke={AXIS} strokeWidth={2} />
      {(minor || []).map((v, i) => (
        <line key={'m' + i} x1={f.left - 5} x2={f.left} y1={y(v)} y2={y(v)} stroke={AXIS} strokeWidth={1.3} />
      ))}
      {ticks.map(([v, label]) => (
        <g key={'t' + v}>
          <line x1={f.left - 10} x2={f.left} y1={y(v)} y2={y(v)} stroke={AXIS} strokeWidth={1.5} />
          <text x={f.left - 19} y={y(v)} dy="0.36em" textAnchor="end" fontSize={22} fontFamily={FONT} fill={TEXT}>
            {label}
          </text>
        </g>
      ))}
      <text x={13} y={y(topTick[0])} dy="0.36em" fontSize={21} fontWeight="bold" fontFamily={FONT} fill={TEXT}>
        {tag}
      </text>
      <text transform={`translate(31,${titleY}) rotate(-90)`} textAnchor="middle" fontSize={22} fontFamily={FONT} fill={TEXT}>
        {title}
      </text>
      {months.map((m, i) => (
        <text key={'l' + i} x={x(d3.timeDay.offset(m, 15))} y={f.monthY} textAnchor="middle" fontSize={22} fontFamily={FONT} fill={TEXT}>
          {MONTH_LABELS[i]}
        </text>
      ))}
    </g>
  );
}

export default function App() {
  const fa: Frame = { left: 121, right: 897, top: 6, bottom: 541, xJul: 137.7, xJun: 836.3, monthY: 579 };
  const fb: Frame = { left: 118, right: 896, top: 602, bottom: 1138, xJul: 136.7, xJun: 832.7, monthY: 1169 };
  const fc: Frame = { left: 118.5, right: 893.5, top: 1199, bottom: 1734, xJul: 136.7, xJun: 832.7, monthY: 1760 };

  const ya = d3.scaleLog().domain([0.806, 4634]).range([fa.top, fa.bottom]);
  const yb = d3.scaleLinear().domain([-2.7, 102.4]).range([fb.bottom, fb.top]);
  const yc = d3.scaleLinear().domain([-288.9, 1288.3]).range([fc.bottom, fc.top]);

  const majors = depthTicks.map((t) => t[0]);
  const depthMinor = ya.ticks().filter((v) => !majors.includes(v));

  return (
    <svg width={903} height={1765} style={{ display: 'block', position: 'absolute', left: 0, top: 0, background: '#fff' }}>
      <rect width={903} height={1765} fill="#fff" />
      <Panel
        f={fa}
        y={ya}
        points={depthPoints}
        ticks={[...depthTicks].reverse()}
        minor={depthMinor}
        refValue={shelfBreakDepth}
        tag="(a)"
        title="Ocean depth (m)"
        titleY={237}
        notes={[
          { text: 'Continental shelf', x: 680, y: 101 },
          { text: 'Shelf break', x: 427, y: 376 },
          { text: 'Actic basin', x: 718, y: 466 },
        ]}
      />
      <Panel
        f={fb}
        y={yb}
        points={icePoints}
        ticks={iceTicks.map((v) => [v, String(v)] as [number, string])}
        tag="(b)"
        title="Sea ice concentration (%)"
        titleY={854}
        notes={[]}
      />
      <Panel
        f={fc}
        y={yc}
        points={distPoints}
        ticks={distTicks}
        refValue={0}
        tag="(c)"
        title="Distance to pack ice (km)"
        titleY={1469}
        notes={[
          { text: 'Outside ice pack', x: 569, y: 1307 },
          { text: 'Inside ice pack', x: 252, y: 1697 },
        ]}
      />
    </svg>
  );
}
